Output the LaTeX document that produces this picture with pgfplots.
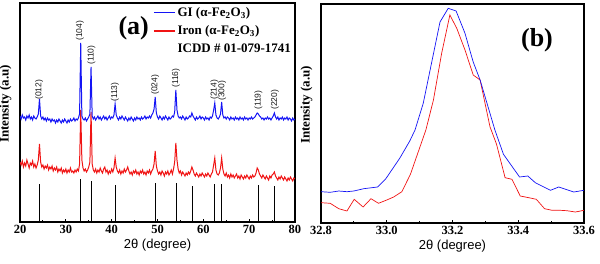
\documentclass[border=0pt]{standalone}
\usepackage{pgfplots}
\pgfplotsset{compat=1.18}
\usepackage{pgfplotstable}
\usepackage{fontspec}
\setmainfont{Liberation Serif}
\newfontfamily\arial{Liberation Sans}
\definecolor{xblue}{RGB}{20,20,245}
\definecolor{xred}{RGB}{240,20,20}

\pgfplotstableread[row sep=\\]{
x b r\\
20.00 106 60\\ 20.25 103 57\\ 20.50 107 61\\ 20.75 104 55\\ 21.00 105 59\\ 21.25 102 56\\ 21.50 106 62\\ 21.75 104 58\\
22.00 107 54\\ 22.25 103 59\\ 22.50 105 57\\ 22.75 102 61\\ 23.00 106 55\\ 23.25 104 58\\ 23.50 103 54\\ 23.75 105 57\\
24.00 108 62\\ 24.25 123 78\\ 24.50 106 60\\ 24.75 103 55\\ 25.00 105 57\\ 25.25 102 53\\ 25.50 104 56\\ 25.75 101 54\\
26.00 104 57\\ 26.25 102 52\\ 26.50 103 55\\ 26.75 100 53\\ 27.00 103 56\\ 27.25 101 51\\ 27.50 102 54\\ 27.75 99 52\\
28.00 102 55\\ 28.25 100 50\\ 28.50 103 53\\ 28.75 101 51\\ 29.00 99 54\\ 29.25 102 49\\ 29.50 100 52\\ 29.75 103 50\\
30.00 101 53\\ 30.25 99 49\\ 30.50 102 52\\ 30.75 100 50\\ 31.00 103 54\\ 31.25 101 50\\ 31.50 102 51\\ 31.75 104 49\\
32.00 101 52\\ 32.25 103 50\\ 32.50 102 53\\ 32.75 104 51\\ 33.00 108 58\\ 33.25 179 112\\ 33.50 106 62\\ 33.75 103 54\\
34.00 102 51\\ 34.25 104 53\\ 34.50 101 50\\ 34.75 103 52\\ 35.00 105 55\\ 35.25 108 60\\ 35.50 155 110\\ 35.75 106 58\\
36.00 103 52\\ 36.25 105 50\\ 36.50 102 53\\ 36.75 104 49\\ 37.00 106 52\\ 37.25 103 50\\ 37.50 105 54\\ 37.75 102 51\\
38.00 104 49\\ 38.25 106 53\\ 38.50 103 55\\ 38.75 105 50\\ 39.00 102 52\\ 39.25 104 48\\ 39.50 106 51\\ 39.75 103 49\\
40.00 105 53\\ 40.25 104 50\\ 40.50 107 54\\ 40.75 118 64\\ 41.00 107 55\\ 41.25 104 51\\ 41.50 102 49\\ 41.75 105 52\\
42.00 103 48\\ 42.25 106 51\\ 42.50 104 49\\ 42.75 102 53\\ 43.00 105 50\\ 43.25 103 52\\ 43.50 101 55\\ 43.75 104 51\\
44.00 102 48\\ 44.25 105 50\\ 44.50 103 47\\ 44.75 101 51\\ 45.00 104 49\\ 45.25 102 52\\ 45.50 105 48\\ 45.75 103 50\\
46.00 104 47\\ 46.25 102 51\\ 46.50 105 49\\ 46.75 103 52\\ 47.00 104 48\\ 47.25 106 50\\ 47.50 103 47\\ 47.75 105 51\\
48.00 104 49\\ 48.25 106 52\\ 48.50 104 48\\ 48.75 107 51\\ 49.00 109 53\\ 49.25 113 58\\ 49.50 125 71\\ 49.75 109 56\\
50.00 105 51\\ 50.25 103 48\\ 50.50 106 50\\ 50.75 104 47\\ 51.00 102 51\\ 51.25 105 49\\ 51.50 103 46\\ 51.75 106 50\\
52.00 104 48\\ 52.25 102 51\\ 52.50 105 47\\ 52.75 103 49\\ 53.00 104 52\\ 53.25 106 48\\ 53.50 105 53\\ 53.75 110 60\\
54.00 132 79\\ 54.25 112 62\\ 54.50 106 53\\ 54.75 104 49\\ 55.00 105 51\\ 55.25 103 47\\ 55.50 106 50\\ 55.75 104 48\\
56.00 102 46\\ 56.25 105 49\\ 56.50 103 47\\ 56.75 104 50\\ 57.00 106 48\\ 57.25 105 51\\ 57.50 109 55\\ 57.75 106 52\\
58.00 104 48\\ 58.25 102 46\\ 58.50 105 49\\ 58.75 103 47\\ 59.00 104 45\\ 59.25 106 48\\ 59.50 103 46\\ 59.75 105 49\\
60.00 104 47\\ 60.25 102 45\\ 60.50 105 48\\ 60.75 103 46\\ 61.00 104 49\\ 61.25 102 47\\ 61.50 105 45\\ 61.75 104 48\\
62.00 106 50\\ 62.25 112 57\\ 62.50 119 64\\ 62.75 107 52\\ 63.00 104 48\\ 63.25 103 47\\ 63.50 105 49\\ 63.75 108 54\\
64.00 120 64\\ 64.25 107 53\\ 64.50 104 48\\ 64.75 105 46\\ 65.00 103 49\\ 65.25 105 45\\ 65.50 104 47\\ 65.75 102 44\\
66.00 105 48\\ 66.25 103 45\\ 66.50 104 47\\ 66.75 102 44\\ 67.00 105 46\\ 67.25 103 48\\ 67.50 104 44\\ 67.75 102 46\\
68.00 105 43\\ 68.25 103 47\\ 68.50 104 45\\ 68.75 102 43\\ 69.00 105 46\\ 69.25 103 44\\ 69.50 104 47\\ 69.75 102 45\\
70.00 104 43\\ 70.25 103 46\\ 70.50 105 44\\ 70.75 103 47\\ 71.00 104 45\\ 71.25 105 46\\ 71.50 107 49\\ 71.75 109 54\\
72.00 108 52\\ 72.25 106 48\\ 72.50 105 46\\ 72.75 103 44\\ 73.00 104 47\\ 73.25 102 45\\ 73.50 104 43\\ 73.75 103 46\\
74.00 105 44\\ 74.25 103 42\\ 74.50 104 46\\ 74.75 102 44\\ 75.00 104 47\\ 75.25 106 48\\ 75.50 109 50\\ 75.75 105 46\\
76.00 103 44\\ 76.25 105 42\\ 76.50 102 45\\ 76.75 104 43\\ 77.00 103 46\\ 77.25 105 44\\ 77.50 102 42\\ 77.75 104 45\\
78.00 103 43\\ 78.25 105 41\\ 78.50 102 44\\ 78.75 104 42\\ 79.00 103 45\\ 79.25 101 43\\ 79.50 104 41\\ 79.75 102 44\\
80.00 103 43\\
}\xrd

\pgfplotstableread[row sep=\\]{
x y\\
24.14 38\\ 33.15 43\\ 35.61 41\\ 40.85 37\\ 49.48 39\\ 54.09 39\\ 57.59 36\\ 62.45 38\\ 64.01 38\\ 71.94 37\\ 75.43 36\\
}\icdd

\pgfplotstableread[row sep=\\]{
x y\\
32.800 31.3\\ 32.828 30.7\\ 32.854 32\\ 32.879 31.3\\ 32.900 32\\ 32.930 34.3\\ 32.972 36\\ 32.996 43.7\\
33.040 65\\ 33.070 82\\ 33.086 93\\ 33.111 119.7\\ 33.162 201\\ 33.187 214.7\\ 33.211 212\\ 33.238 189.7\\
33.263 161\\ 33.284 143\\ 33.329 93\\ 33.355 68.7\\ 33.404 46\\ 33.429 47\\ 33.452 40.3\\ 33.498 32.7\\
33.523 36\\ 33.569 31\\ 33.600 32.7\\
}\zoomb

\pgfplotstableread[row sep=\\]{
x y\\
32.800 20.3\\ 32.828 19.7\\ 32.854 14.3\\ 32.879 12\\ 32.901 23.7\\ 32.928 16\\ 32.952 24.3\\ 32.975 19.7\\
33.000 23\\ 33.021 26\\ 33.046 31.3\\ 33.072 48.7\\ 33.119 93\\ 33.142 123\\ 33.167 169.7\\ 33.192 208\\
33.213 194.7\\ 33.238 173\\ 33.263 148\\ 33.284 143\\ 33.314 96.3\\ 33.334 78.7\\ 33.360 45.3\\ 33.381 43.7\\
33.406 27\\ 33.432 25.3\\ 33.455 23.7\\ 33.480 14.3\\ 33.503 12.7\\ 33.528 12.7\\ 33.548 12.3\\ 33.574 11\\
33.600 12.7\\
}\zoomr

\pgfplotsset{
  common/.style={
    scale only axis, anchor=south west,
    ymin=0, ymax=219, ytick=\empty,
    axis line style={line width=1.3pt},
    xtick pos=bottom, tick align=inside,
    major tick length=3pt, minor tick length=2pt,
    every tick/.style={black, line width=0.9pt},
    minor x tick num=1,
    /pgf/number format/assume math mode=true,
    ticklabel style={font=\fontsize{12.5}{12.5}\selectfont\bfseries},
    xlabel style={font=\arial\fontsize{13}{13}\selectfont, yshift=2pt},
    ylabel style={font=\fontsize{13}{13}\selectfont\bfseries},
  }
}

\begin{document}
\begin{tikzpicture}[x=1pt,y=1pt]
\begin{axis}[common,
  at={(20pt,41pt)}, width=275pt, height=219pt,
  xmin=20, xmax=80, xtick={20,30,...,80},
  xlabel={2θ (degree)}, ylabel={Intensity (a.u)},
  ylabel style={at={(axis description cs:-0.018,0.54)}, anchor=south},
  legend style={draw=none, fill=none, at={(axis description cs:0.997,0.995)}, anchor=north east,
    font=\fontsize{13}{13}\selectfont\bfseries, row sep=4pt, inner sep=1pt},
  legend cell align=left,
  legend image code/.code={\draw[#1, line width=1.4pt] (0pt,0pt) -- (21pt,0pt);},
]
\addplot[xred, line width=1pt, forget plot] table[x=x, y=r] {\xrd};
\addplot[xblue, line width=1pt, forget plot] table[x=x, y=b] {\xrd};
\addplot[black, line width=0.9pt, ycomb, forget plot] table[x=x, y=y] {\icdd};
\addlegendimage{color=xblue}
\addlegendentry{GI (α-Fe\textsubscript{2}O\textsubscript{3})}
\addlegendimage{color=xred}
\addlegendentry{Iron (α-Fe\textsubscript{2}O\textsubscript{3})}
\addlegendimage{empty legend}
\addlegendentry{ICDD \# 01-079-1741}
\node[font=\fontsize{26}{26}\selectfont\bfseries] at (axis cs:44.8,194) {(a)};
\begin{scope}[every node/.style={rotate=90, anchor=west, inner sep=1pt, font=\arial\fontsize{8.5}{8.5}\selectfont, text=black!90}]
\node at (axis cs:24.2,121) {(012)};
\node at (axis cs:33.1,180) {(104)};
\node at (axis cs:35.6,156) {(110)};
\node at (axis cs:40.7,119) {(113)};
\node at (axis cs:49.5,126) {(024)};
\node at (axis cs:54.0,133) {(116)};
\node at (axis cs:62.4,121) {(214)};
\node at (axis cs:64.1,120) {(300)};
\node at (axis cs:72.0,111) {(119)};
\node at (axis cs:75.6,111) {(220)};
\end{scope}
\end{axis}

\begin{axis}[common,
  at={(321pt,40pt)}, width=263pt, height=219pt,
  xmin=32.8, xmax=33.6, xtick={32.8,33.0,...,33.6},
  xticklabel style={/pgf/number format/.cd, fixed, fixed zerofill, precision=1},
  xlabel={2θ (degree)}, ylabel={Intensity (a.u)},
  ylabel style={at={(axis description cs:-0.019,0.54)}, anchor=south},
]
\addplot[xred, line width=0.7pt] table[x=x, y=y] {\zoomr};
\addplot[xblue, line width=0.7pt] table[x=x, y=y] {\zoomb};
\node[font=\fontsize{26}{26}\selectfont\bfseries] at (axis cs:33.457,183) {(b)};
\end{axis}
\pgfresetboundingbox
\path[use as bounding box] (0,0) rectangle (600,263);
\end{tikzpicture}
\end{document}
